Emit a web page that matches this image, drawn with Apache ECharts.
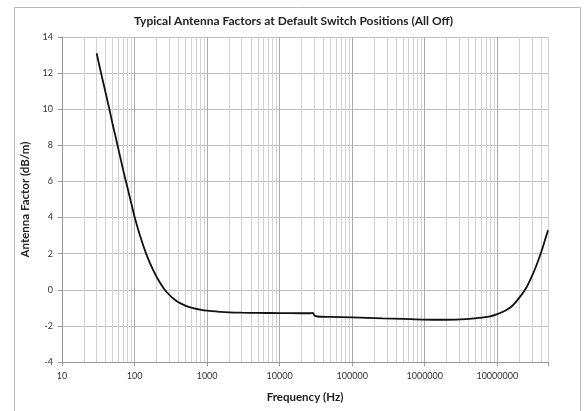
<!DOCTYPE html>
<html>
<head>
<meta charset="utf-8">
<script src="https://cdn.jsdelivr.net/npm/echarts@6/dist/echarts.min.js"></script>
<style>
html,body{margin:0;padding:0;background:#fff;}
#c{width:587px;height:411px;}
</style>
</head>
<body>
<div id="c"></div>
<script>
// Data
var frequencyHz = [30, 35, 40, 45, 50, 55, 61, 70, 80, 90, 100, 120, 146, 180, 223, 280, 378, 500, 640, 800, 1000, 1500, 2000, 3000, 5000, 10000, 20000, 25700, 28500, 30500, 33000, 50000, 100000, 263000, 500000, 940000, 2000000, 3690000, 5000000, 7700000, 10000000, 13000000, 16000000, 20000000, 25000000, 30000000, 35000000, 40000000, 45000000, 50000000];
var antennaFactor = [13.1, 11.9, 10.9, 10.0, 9.15, 8.45, 7.65, 6.6, 5.65, 4.8, 4.05, 2.95, 1.95, 1.1, 0.4, -0.15, -0.62, -0.88, -1.02, -1.1, -1.16, -1.22, -1.25, -1.27, -1.28, -1.29, -1.3, -1.3, -1.28, -1.44, -1.48, -1.5, -1.53, -1.58, -1.61, -1.65, -1.66, -1.63, -1.58, -1.49, -1.35, -1.15, -0.9, -0.45, 0.1, 0.75, 1.4, 2.05, 2.7, 3.3];
var minorGridX = [20,30,40,50,60,70,80,90,200,300,400,500,600,700,800,900,2000,3000,4000,5000,6000,7000,8000,9000,20000,30000,40000,50000,60000,70000,80000,90000,200000,300000,400000,500000,600000,700000,800000,900000,2000000,3000000,4000000,5000000,6000000,7000000,8000000,9000000,20000000,30000000,40000000,50000000];
var yTicks = {min: -4, max: 14, step: 2};
var xRange = {min: 10, max: 50000000};

var chart = echarts.init(document.getElementById('c'), null, {renderer: 'canvas'});
var font = 'Lato, "Open Sans", "Liberation Sans", sans-serif';
var points = frequencyHz.map(function (f, i) { return [f, antennaFactor[i]]; });

chart.setOption({
  animation: false,
  backgroundColor: '#ffffff',
  graphic: [{
    type: 'rect', left: 12, top: 5, z: -10,
    shape: {x: 0, y: 0, width: 566, height: 420},
    style: {fill: 'none', stroke: '#b8b8b8', lineWidth: 1}
  }],
  title: {
    text: 'Typical Antenna Factors at Default Switch Positions (All Off)',
    left: 'center', top: 10,
    textStyle: {fontFamily: font, fontSize: 12, fontWeight: 'bold', color: '#222'}
  },
  grid: {left: 62, right: 39, top: 37, bottom: 49, containLabel: false},
  xAxis: {
    type: 'log', logBase: 10, min: xRange.min, max: xRange.max,
    name: 'Frequency (Hz)', nameLocation: 'middle', nameGap: 29,
    nameTextStyle: {fontFamily: font, fontSize: 11.5, fontWeight: 'bold', color: '#222'},
    axisLine: {show: true, onZero: false, lineStyle: {color: '#999', width: 1}},
    axisTick: {show: true, length: 4, lineStyle: {color: '#999'}},
    axisLabel: {
      fontFamily: font, fontSize: 9, color: '#333', margin: 10,
      formatter: function (v) {
        var l = Math.log10(v);
        return Math.abs(l - Math.round(l)) < 1e-6 ? String(Math.round(v)) : '';
      }
    },
    splitLine: {show: true, lineStyle: {color: '#ababab', width: 1}}
  },
  yAxis: {
    type: 'value', min: yTicks.min, max: yTicks.max, interval: yTicks.step,
    name: 'Antenna Factor (dB/m)', nameLocation: 'middle', nameGap: 29, nameRotate: 90,
    nameTextStyle: {fontFamily: font, fontSize: 11.5, fontWeight: 'bold', color: '#222'},
    axisLine: {show: true, lineStyle: {color: '#999', width: 1}},
    axisTick: {show: true, length: 4, lineStyle: {color: '#999'}},
    axisLabel: {fontFamily: font, fontSize: 9, color: '#333', margin: 9},
    splitLine: {show: true, lineStyle: {color: '#bfbfbf', width: 1}}
  },
  series: [{
    type: 'line', data: [], silent: true, z: 1,
    markLine: {
      silent: true, symbol: ['none', 'none'], z: 1, animation: false,
      label: {show: false},
      lineStyle: {color: '#d2d2d2', width: 1, type: 'solid'},
      emphasis: {disabled: true},
      data: minorGridX.map(function (v) { return {xAxis: v}; })
    }
  }, {
    type: 'line', data: points, z: 5,
    showSymbol: false, smooth: 0.3,
    lineStyle: {color: '#111', width: 1.8},
    itemStyle: {color: '#111'}
  }]
});
</script>
</body>
</html>
